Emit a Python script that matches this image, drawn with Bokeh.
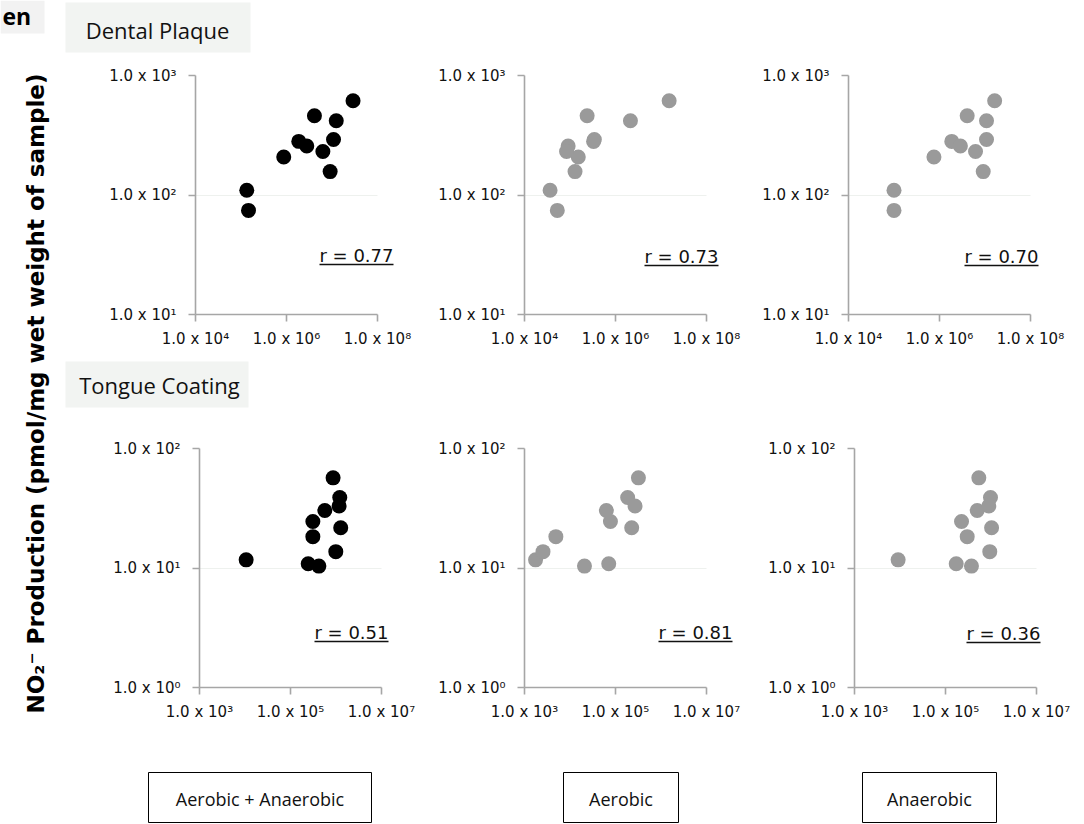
import math
from bokeh.plotting import figure
from bokeh.models import Range1d, FixedTicker, CustomJSTickFormatter, Label, BoxAnnotation
from bokeh.layouts import row, column
from bokeh.embed import file_html
from bokeh.resources import INLINE

# ---------------- data ----------------
plaque_no2 = [109.5, 74.3, 208, 281, 257, 461, 231, 157, 291, 418, 614]
plaque_total = [1.34e5, 1.46e5, 8.7e5, 1.86e6, 2.79e6, 4.11e6, 6.3e6, 9.1e6, 1.08e7, 1.24e7, 2.9e7]
plaque_aerobic = [3.65e4, 5.26e4, 1.52e5, 3.3e5, 9.1e4, 2.38e5, 8.4e4, 1.29e5, 3.43e5, 2.13e6, 1.51e7]
plaque_anaerobic = [1.0e5, 1.0e5, 7.55e5, 1.86e6, 2.88e6, 4.06e6, 6.19e6, 9.14e6, 1.08e7, 1.08e7, 1.63e7]

tongue_no2 = [11.7, 10.85, 10.37, 24.5, 18.3, 30.3, 56.8, 38.9, 33.0, 21.7, 13.7]
tongue_total = [1.06e4, 2.45e5, 4.2e5, 3.1e5, 3.1e5, 5.68e5, 8.63e5, 1.21e6, 1.17e6, 1.27e6, 9.9e5]
tongue_aerobic = [1.75e3, 7.1e4, 2.08e4, 7.74e4, 4.89e3, 6.3e4, 3.19e5, 1.85e5, 2.69e5, 2.27e5, 2.55e3]
tongue_anaerobic = [9.1e3, 1.72e5, 3.72e5, 2.25e5, 3.0e5, 4.98e5, 5.4e5, 9.75e5, 8.95e5, 1.03e6, 9.4e5]

plaque_x_ticks = [1e4, 1e6, 1e8]
plaque_y_ticks = [1e1, 1e2, 1e3]
tongue_x_ticks = [1e3, 1e5, 1e7]
tongue_y_ticks = [1e0, 1e1, 1e2]

r_texts = ["r = 0.77", "r = 0.73", "r = 0.70", "r = 0.51", "r = 0.81", "r = 0.36"]
row_titles = ["Dental Plaque", "Tongue Coating"]
column_titles = ["Aerobic + Anaerobic", "Aerobic", "Anaerobic"]
y_title = "NO\u2082\u207b Production (pmol/mg wet weight of sample)"

# ---------------- styling / layout (page pixel coordinates) ----------------
AX_W, AX_H, EXTRA = 182, 239, 36
AXIS_GRAY = "#A6A6A6"
BLACK = "#000000"
GRAY = "#9A9A9A"
TICK_FONT = "DejaVu Sans"
TEXT_FONT = "Open Sans"
R_W = 74

tick_fmt_code = """
const sup = ["\u2070","\u00b9","\u00b2","\u00b3","\u2074","\u2075","\u2076","\u2077","\u2078","\u2079"];
const e = Math.round(Math.log10(tick));
return "1.0 x 10" + sup[e];
"""


def panel(fig_left, fig_top, fig_w, fig_h, frame_left, frame_top,
          xs, ys, xt, yt, color, rtext, r_right_page, r_under_page):
    xlo, xhi = math.log10(xt[0]), math.log10(xt[-1])
    ylo, yhi = math.log10(yt[0]), math.log10(yt[-1])
    fw = AX_W + EXTRA
    xend = 10 ** (xlo + (xhi - xlo) * fw / AX_W)
    bl = frame_left - fig_left
    bt = frame_top - fig_top
    br = fig_w - bl - fw
    bb = fig_h - bt - AX_H
    frame_bottom = frame_top + AX_H
    p = figure(frame_width=fw, frame_height=AX_H, x_axis_type="log", y_axis_type="log",
               x_range=Range1d(xt[0], xend), y_range=Range1d(yt[0], yt[-1]),
               min_border_left=bl, min_border_right=br, min_border_top=bt,
               min_border_bottom=bb, toolbar_location=None, output_backend="svg")
    p.outline_line_color = None
    p.xgrid.visible = False
    p.ygrid.ticker = FixedTicker(ticks=yt, minor_ticks=[])
    p.ygrid.grid_line_color = "#EEF1EE"
    p.ygrid.grid_line_width = 1
    p.ygrid.cross_bounds = (xt[0], xt[-1])
    for ax, ticks in ((p.xaxis[0], xt), (p.yaxis[0], yt)):
        ax.ticker = FixedTicker(ticks=ticks, minor_ticks=[])
        ax.formatter = CustomJSTickFormatter(code=tick_fmt_code)
        ax.bounds = (ticks[0], ticks[-1])
        ax.axis_line_color = AXIS_GRAY
        ax.axis_line_width = 1.6
        ax.major_tick_line_color = AXIS_GRAY
        ax.major_tick_line_width = 1.6
        ax.major_tick_out = 7
        ax.major_tick_in = 0
        ax.minor_tick_out = 0
        ax.minor_tick_in = 0
        ax.major_label_text_font = TICK_FONT
        ax.major_label_text_font_size = "15px"
        ax.major_label_text_color = "#111111"
    p.xaxis.major_label_standoff = 8
    p.yaxis.major_label_standoff = 12

    p.scatter(xs, ys, size=15, fill_color=color, line_color=None)

    def xd(px_page):
        return 10 ** (xlo + (px_page - frame_left) * (xhi - xlo) / AX_W)

    def yd(py_page):
        return 10 ** (ylo + (frame_bottom - py_page) * (yhi - ylo) / AX_H)

    p.add_layout(Label(x=xd(r_right_page), y=yd(r_under_page - 9), text=rtext,
                       text_align="right", text_baseline="middle", text_font=TICK_FONT,
                       text_font_size="18px", text_color="#111111"))
    p.add_layout(BoxAnnotation(left=xd(r_right_page - R_W), right=xd(r_right_page),
                               bottom=yd(r_under_page + 0.8), top=yd(r_under_page - 0.8),
                               fill_color="#111111", fill_alpha=1, line_color=None))
    return p


def strip(left, top, right, bottom):
    p = figure(width=right - left, height=bottom - top, x_range=Range1d(left, right),
               y_range=Range1d(bottom, top), x_axis_type=None, y_axis_type=None,
               min_border=0, toolbar_location=None, output_backend="svg")
    p.outline_line_color = None
    p.grid.visible = False
    return p


# left strip with rotated axis title
left = strip(0, 0, 60, 824)
left.add_layout(BoxAnnotation(left=0, right=44, top=0, bottom=33, fill_color="#F2F2F2",
                              fill_alpha=1, line_color=None))
left.add_layout(Label(x=2, y=15, text="en", text_align="left", text_baseline="middle",
                      text_font=TEXT_FONT, text_font_style="bold", text_font_size="23px",
                      text_color=BLACK))
left.add_layout(Label(x=35, y=393, text=y_title, angle=math.pi / 2, text_align="center",
                      text_baseline="middle", text_font=TICK_FONT, text_font_style="bold",
                      text_font_size="23px", text_color=BLACK))

# top strip: Dental Plaque
top_strip = strip(60, 0, 1084, 58)
top_strip.add_layout(BoxAnnotation(left=65, right=250, top=2, bottom=52, fill_color="#F2F4F2",
                                   fill_alpha=1, line_color=None))
top_strip.add_layout(Label(x=157, y=29, text=row_titles[0], text_align="center",
                           text_baseline="middle", text_font=TEXT_FONT,
                           text_font_size="22px", text_color="#111111"))

# row 1 panels (frame tops aligned at y=75)
tl = panel(60, 58, 360, 292, 195, 75, plaque_total, plaque_no2, plaque_x_ticks,
           plaque_y_ticks, BLACK, r_texts[0], 393, 264)
tm = panel(420, 58, 328, 292, 524, 75, plaque_aerobic, plaque_no2, plaque_x_ticks,
           plaque_y_ticks, GRAY, r_texts[1], 718, 265)
tr = panel(748, 58, 336, 292, 848, 75, plaque_anaerobic, plaque_no2, plaque_x_ticks,
           plaque_y_ticks, GRAY, r_texts[2], 1038, 265)

# mid strip: Tongue Coating
mid_strip = strip(60, 350, 1084, 420)
mid_strip.add_layout(BoxAnnotation(left=65, right=248, top=361, bottom=407, fill_color="#F2F4F2",
                                   fill_alpha=1, line_color=None))
mid_strip.add_layout(Label(x=159, y=384, text=row_titles[1], text_align="center",
                           text_baseline="middle", text_font=TEXT_FONT,
                           text_font_size="22px", text_color="#111111"))

# row 2 panels (frame tops aligned at y=448)
bl_ = panel(60, 420, 360, 305, 199, 448, tongue_total, tongue_no2, tongue_x_ticks,
            tongue_y_ticks, BLACK, r_texts[3], 388, 641)
bm = panel(420, 420, 328, 305, 524, 448, tongue_aerobic, tongue_no2, tongue_x_ticks,
           tongue_y_ticks, GRAY, r_texts[4], 732, 641)
br_ = panel(748, 420, 336, 305, 854, 448, tongue_anaerobic, tongue_no2, tongue_x_ticks,
            tongue_y_ticks, GRAY, r_texts[5], 1040, 642)

# bottom strip: boxed column titles
bottom = strip(60, 725, 1084, 824)
for (bx0, bx1), title in zip([(148, 371), (563, 678), (862, 996)], column_titles):
    bottom.add_layout(BoxAnnotation(left=bx0, right=bx1, top=772, bottom=822,
                                    fill_color="#FFFFFF", fill_alpha=1,
                                    line_color=BLACK, line_alpha=1, line_width=1))
    bottom.add_layout(Label(x=(bx0 + bx1) / 2, y=798, text=title, text_align="center",
                            text_baseline="middle", text_font=TEXT_FONT,
                            text_font_size="18px", text_color="#111111"))

layout = row(left, column(top_strip, row(tl, tm, tr), mid_strip, row(bl_, bm, br_), bottom))

with open("out.html", "w", encoding="utf-8") as f:
    f.write(file_html(layout, INLINE))
